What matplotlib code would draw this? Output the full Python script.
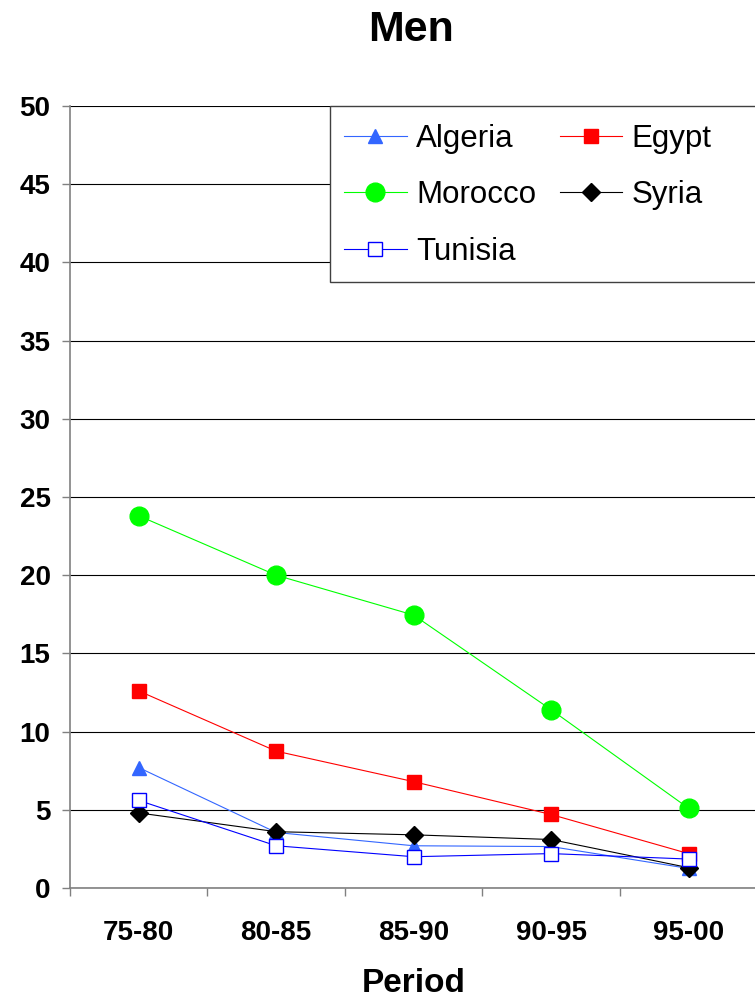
import matplotlib
matplotlib.use("Agg")
import matplotlib.pyplot as plt
from matplotlib.patches import Rectangle
import numpy as np

plt.rcParams['font.family'] = ['Liberation Sans', 'DejaVu Sans']

periods = ["75-80", "80-85", "85-90", "90-95", "95-00"]
algeria = [7.7, 3.55, 2.7, 2.65, 1.25]
egypt = [12.6, 8.75, 6.8, 4.7, 2.2]
morocco = [23.8, 20.0, 17.45, 11.4, 5.1]
syria = [4.8, 3.6, 3.4, 3.1, 1.3]
tunisia = [5.6, 2.7, 2.0, 2.2, 1.85]
y_ticks = [0, 5, 10, 15, 20, 25, 30, 35, 40, 45, 50]

W, H = 755, 1000
fig = plt.figure(figsize=(W / 100, H / 100), dpi=100)
ax = fig.add_axes([70 / W, 1 - 888 / H, 1 - 70 / W + 0.003, (888 - 106) / H])

x = np.arange(len(periods))
l_alg, = ax.plot(x, algeria, color="#3366FF", lw=0.8, marker="^", ms=10, mfc="#3366FF", mec="#3366FF", label="Algeria")
l_egy, = ax.plot(x, egypt, color="#FF0000", lw=0.8, marker="s", ms=10, mfc="#FF0000", mec="#FF0000", label="Egypt")
l_mor, = ax.plot(x, morocco, color="#00FF00", lw=0.8, marker="o", ms=13.5, mfc="#00FF00", mec="#00FF00", label="Morocco")
l_syr, = ax.plot(x, syria, color="#000000", lw=0.8, marker="D", ms=9.5, mfc="#000000", mec="#000000", label="Syria")
l_tun, = ax.plot(x, tunisia, color="#0000FF", lw=0.8, marker="s", ms=10, mfc="white", mec="#0000FF", mew=1.0, label="Tunisia")

ax.set_xlim(-0.5, len(periods) - 0.5)
ax.set_ylim(0, 50)
ax.set_yticks(y_ticks)
ax.set_yticklabels([str(v) for v in y_ticks], fontsize=20, fontweight="bold")
ax.set_xticks(x)
ax.set_xticklabels(periods, fontsize=20, fontweight="bold")
ax.set_xticks(np.arange(len(periods)) - 0.5, minor=True)
ax.tick_params(axis="x", which="major", length=0, pad=23)
ax.tick_params(axis="x", which="minor", length=6, color="#808080", width=1)
ax.tick_params(axis="y", length=6, color="#808080", width=1, pad=8)

ax.yaxis.grid(True, color="black", lw=0.8)
ax.set_axisbelow(True)
for s in ("top", "right"):
    ax.spines[s].set_visible(False)
for s in ("left", "bottom"):
    ax.spines[s].set_color("#808080")
    ax.spines[s].set_linewidth(1.2)

fig.text(414 / W, 1 - 984 / H, "Period", fontsize=24, fontweight="bold", ha="center", va="center")
fig.text(411 / W, 1 - 30 / H, "Men", fontsize=31, fontweight="bold", ha="center", va="center")

# legend box (extends past the right edge of the figure)
lx0, ly0, lx1, ly1 = 330, 106, 775, 282
fig.patches.append(Rectangle((lx0 / W, 1 - ly1 / H), (lx1 - lx0) / W, (ly1 - ly0) / H,
                             transform=fig.transFigure, facecolor="white",
                             edgecolor="#404040", lw=1.0, zorder=5))

# fill the two legend columns row by row
handles = [l_alg, l_mor, l_tun, l_egy, l_syr]
leg = fig.legend(handles=handles, labels=[h.get_label() for h in handles], ncol=2,
                 loc="upper left", bbox_to_anchor=(lx0 / W, 1 - (ly0 + 4) / H),
                 fontsize=22.5, frameon=False,
                 handlelength=2.0, handletextpad=0.3, columnspacing=0.75,
                 labelspacing=0.84, borderpad=0.45, borderaxespad=0)
leg.set_zorder(6)

fig.savefig("out.png", dpi=100)
